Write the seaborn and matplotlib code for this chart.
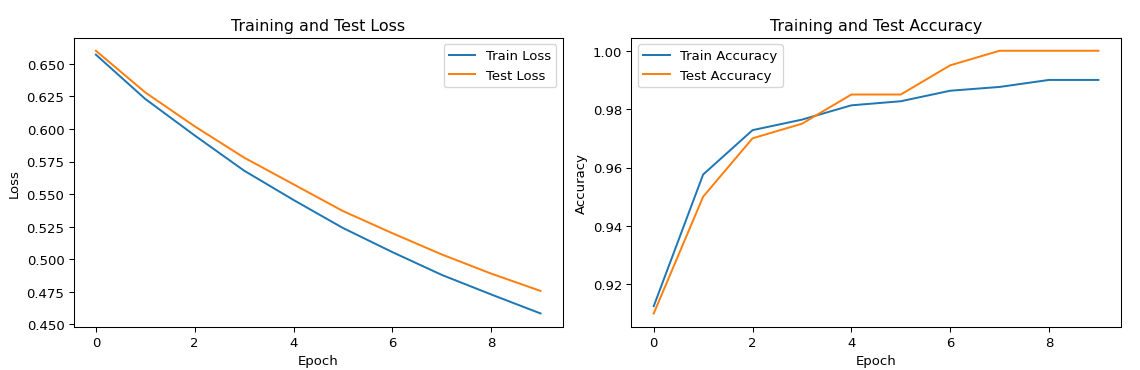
import numpy as np
import pandas as pd
import seaborn as sns
import matplotlib
matplotlib.use("Agg")
import matplotlib.pyplot as plt

epochs = list(range(10))
train_loss = [0.657, 0.623, 0.595, 0.568, 0.5455, 0.524, 0.5055, 0.488, 0.473, 0.4584]
test_loss = [0.660, 0.628, 0.602, 0.578, 0.5575, 0.537, 0.520, 0.5037, 0.489, 0.4757]
train_acc = [0.9125, 0.9576, 0.9728, 0.9764, 0.9813, 0.9827, 0.9863, 0.9876, 0.990, 0.990]
test_acc = [0.910, 0.950, 0.970, 0.975, 0.985, 0.985, 0.995, 1.000, 1.000, 1.000]

fig, (ax1, ax2) = plt.subplots(1, 2, figsize=(12, 3.905), dpi=95)
fig.subplots_adjust(left=0.0646, right=0.983, top=0.896, bottom=0.117, wspace=0.1405)

# loss panel
sns.lineplot(x=epochs, y=train_loss, ax=ax1, label="Train Loss", color="#1f77b4")
sns.lineplot(x=epochs, y=test_loss, ax=ax1, label="Test Loss", color="#ff7f0e")
ax1.set(title="Training and Test Loss", xlabel="Epoch", ylabel="Loss")
ax1.legend(loc="upper right")

# accuracy panel
sns.lineplot(x=epochs, y=train_acc, ax=ax2, label="Train Accuracy", color="#1f77b4")
sns.lineplot(x=epochs, y=test_acc, ax=ax2, label="Test Accuracy", color="#ff7f0e")
ax2.set(title="Training and Test Accuracy", xlabel="Epoch", ylabel="Accuracy")
ax2.legend(loc="upper left")

fig.savefig("out.png")
